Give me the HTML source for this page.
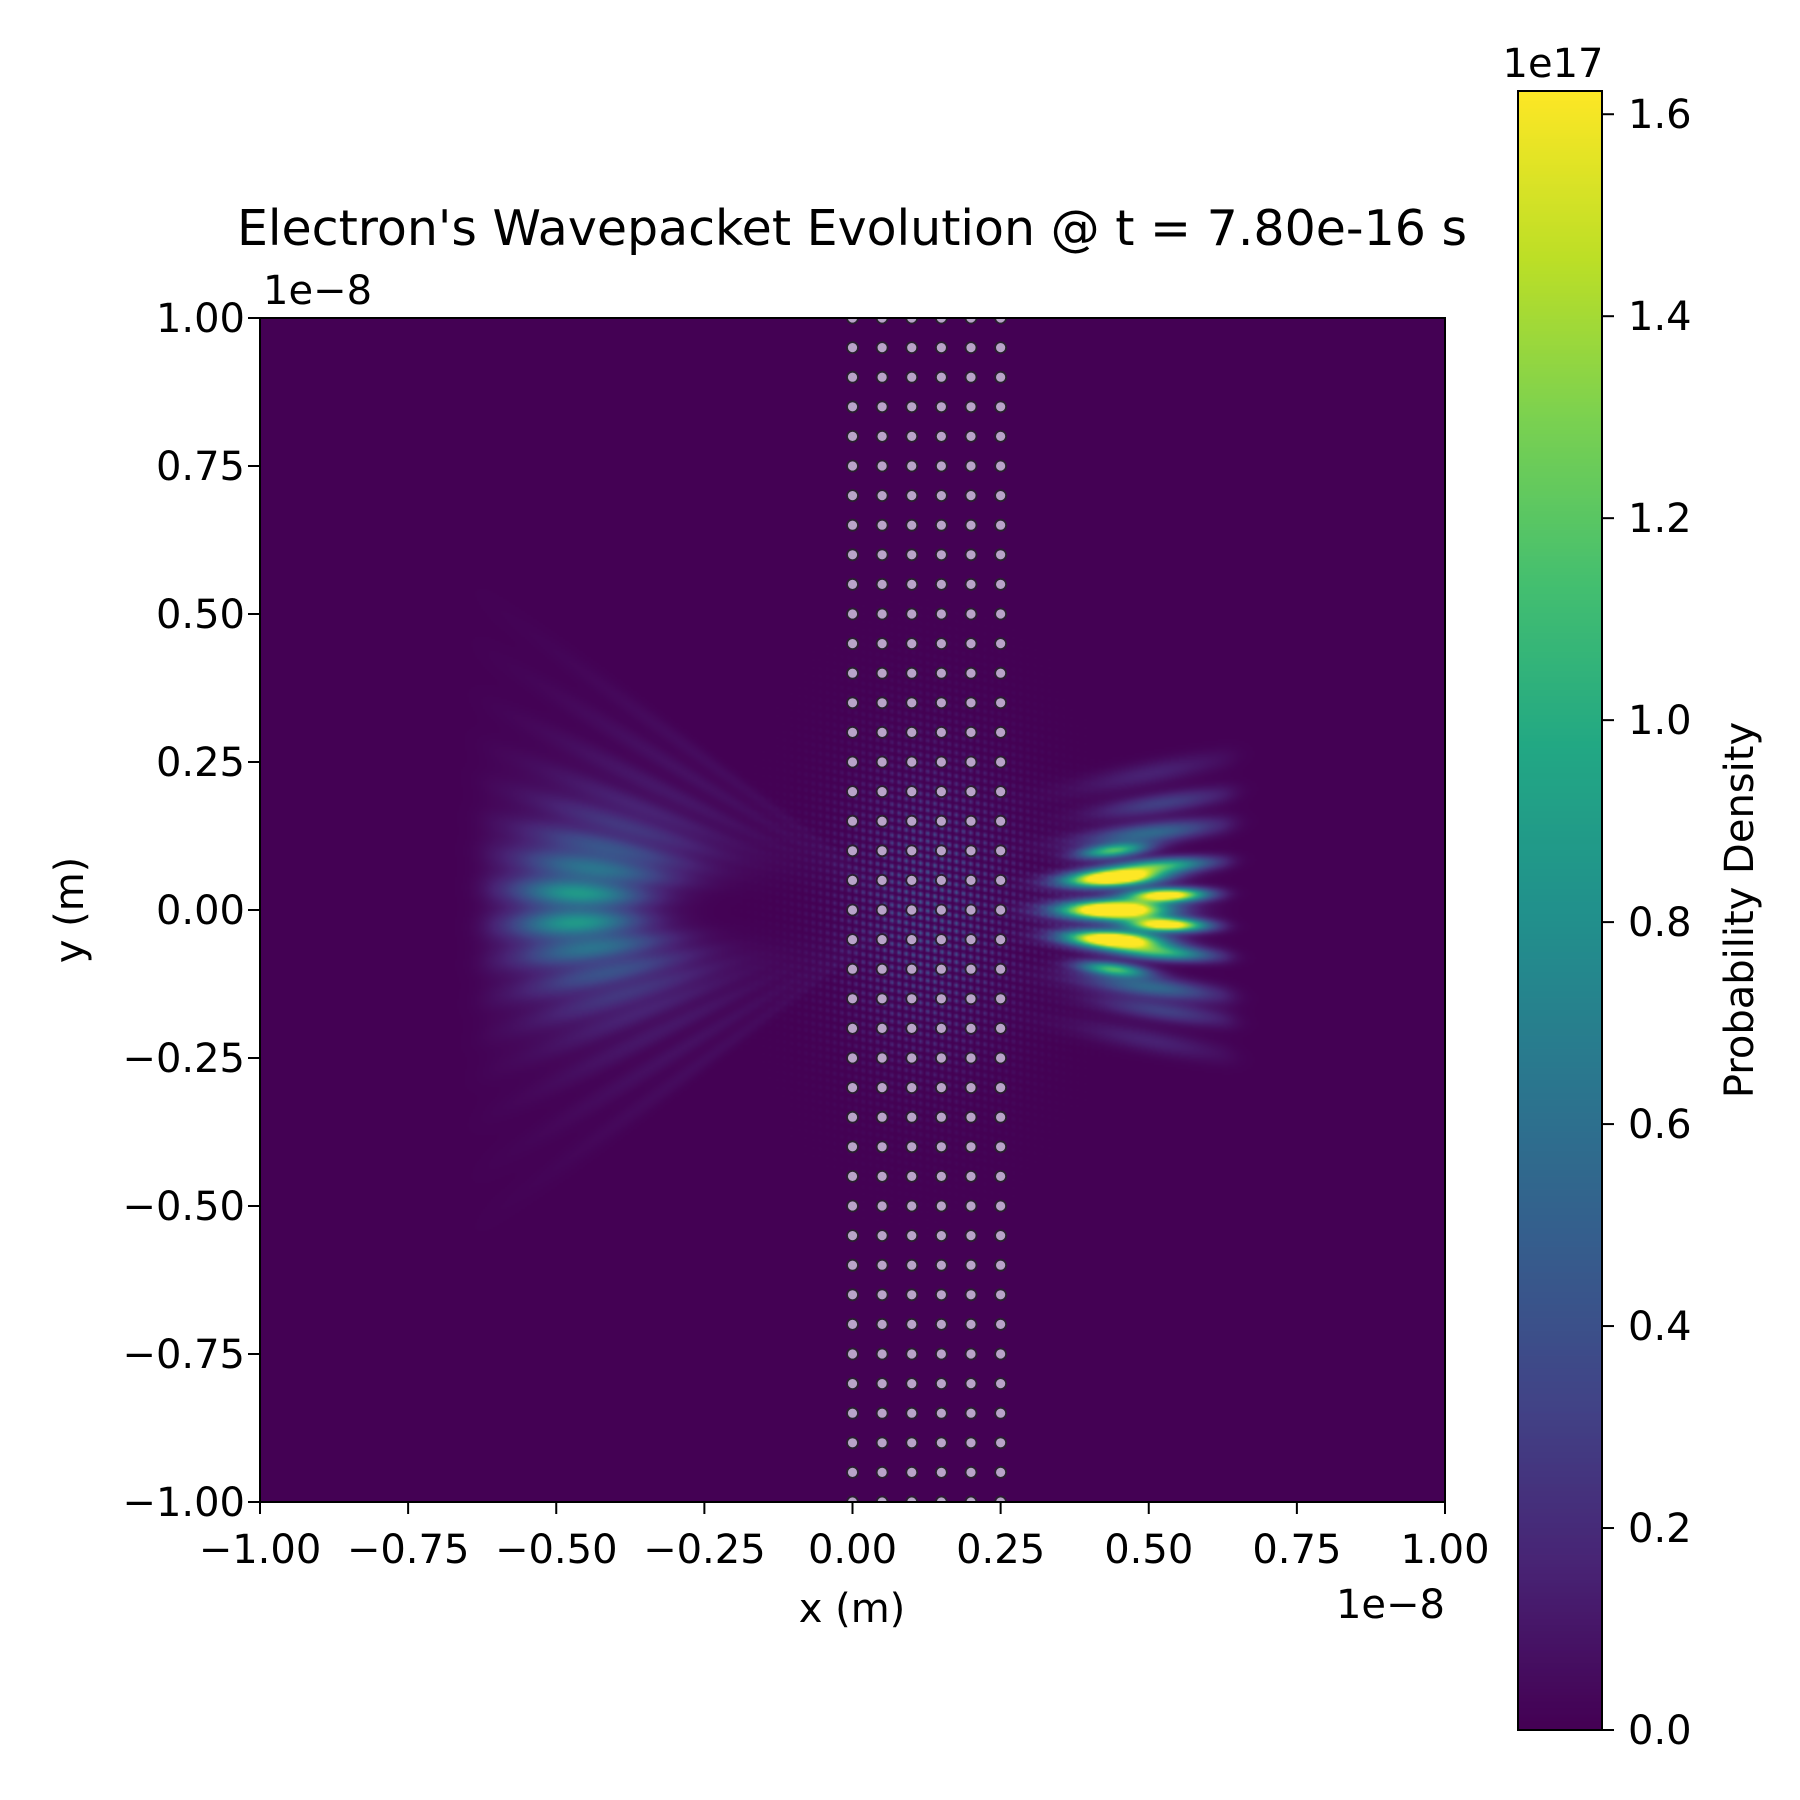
<!DOCTYPE html>
<html><head><meta charset="utf-8"><style>
html,body{margin:0;padding:0;background:#fff;}
#wrap{position:relative;width:1800px;height:1800px;font-family:"Liberation Sans","DejaVu Sans",sans-serif;}
canvas{position:absolute;}
svg{position:absolute;left:0;top:0;}
text{font-family:"DejaVu Sans","Liberation Sans",sans-serif;fill:#000;}
</style></head><body>
<div id="wrap">
<canvas id="heat" width="593" height="592" style="left:260px;top:318px;width:1185px;height:1184px;"></canvas>
<canvas id="cbar" width="1" height="256" style="left:1518px;top:91px;width:84px;height:1639px;"></canvas>
<svg id="ov" width="1800" height="1800"></svg>
</div>
<script>
// ---- data ----
const xTicks = [-1.0,-0.75,-0.5,-0.25,0.0,0.25,0.5,0.75,1.0];
const xTickLabels = ["\u22121.00","\u22120.75","\u22120.50","\u22120.25","0.00","0.25","0.50","0.75","1.00"];
const yTicks = [-1.0,-0.75,-0.5,-0.25,0.0,0.25,0.5,0.75,1.0];
const yTickLabels = ["\u22121.00","\u22120.75","\u22120.50","\u22120.25","0.00","0.25","0.50","0.75","1.00"];
const cbTicks = [0.0,0.2,0.4,0.6,0.8,1.0,1.2,1.4,1.6];
const cbTickLabels = ["0.0","0.2","0.4","0.6","0.8","1.0","1.2","1.4","1.6"];
const cbMax = 1.623;
const latticeX = [0.0,0.05,0.10,0.15,0.20,0.25];
const latticeYStart = -1.0, latticeYStep = 0.05, latticeYCount = 40;
// right (transmitted) packet lobes: centre x, centre y, amplitude, sigma x, sigma y
const rightX = [0.44,0.44,0.44,0.53,0.53,0.44,0.44,0.52,0.52,0.50,0.50,0.52,0.52,0.50,0.50];
const rightY = [0.054,0.0,-0.05,0.025,-0.025,0.10,-0.10,0.075,-0.072,0.13,-0.13,0.18,-0.17,0.23,-0.22];
const rightA = [2.2,2.4,2.2,1.9,1.9,1.1,1.1,1.0,1.0,0.55,0.55,0.3,0.3,0.15,0.15];
const rightSX = [0.055,0.06,0.055,0.045,0.045,0.04,0.04,0.06,0.06,0.08,0.08,0.08,0.08,0.09,0.09];
const rightSY = [0.010,0.011,0.010,0.008,0.008,0.008,0.008,0.009,0.009,0.012,0.012,0.012,0.012,0.014,0.014];
// left (reflected) packet stripes at x=-0.48
const leftY = [0.029,-0.022,0.076,-0.07,0.12,-0.12,0.17,-0.17,0.22,-0.22,0.28,-0.28,0.35,-0.35,0.42,-0.42];
const leftA = [0.85,0.85,0.6,0.6,0.4,0.4,0.25,0.25,0.15,0.15,0.1,0.1,0.07,0.07,0.05,0.05];

// ---- axes ----
const PX0=260, PX1=1445, PY0=318, PY1=1502;
const sx = v => PX0 + (v+1)/2*(PX1-PX0);
const sy = v => PY1 - (v+1)/2*(PY1-PY0);
const CB0=1730, CB1=91;
const cy = v => CB0 - v/cbMax*(CB0-CB1);

const VIR=[[68,1,84],[72,36,117],[65,68,135],[53,95,141],[42,120,142],[33,145,140],[34,168,132],[68,191,112],[122,209,81],[189,223,38],[253,231,37]];
function vir(t){t=Math.max(0,Math.min(1,t));const p=t*(VIR.length-1);const i=Math.min(VIR.length-2,Math.floor(p));const f=p-i;
 return VIR[i].map((c,k)=>Math.round(c+(VIR[i+1][k]-c)*f));}

function density(x,y){
 let v=0;
 for(let k=0;k<rightX.length;k++){
  const slope=rightY[k]/(rightX[k]-0.15)*0.3;
  const yc=rightY[k]+slope*(x-rightX[k]);
  const dx=(x-rightX[k])/rightSX[k], dy=(y-yc)/rightSY[k];
  let e=Math.exp(-0.5*(dx*dx+dy*dy));
  if(x>0.62) e*=Math.exp(-Math.pow((x-0.62)/0.04,2));
  v+=rightA[k]*e;
 }
 const O=0.1, ref=O-(-0.48);
 if(x<O){
  const s=(O-x)/ref;
  for(let k=0;k<leftY.length;k++){
   const yc=leftY[k]*s;
   const cx=-0.48+Math.abs(leftY[k])*0.55;
   const dx=(x-cx)/(0.07+Math.abs(leftY[k])*0.25), dy=(y-yc)/(0.013*s+0.004);
   let e=Math.exp(-0.5*(dx*dx+dy*dy));
   if(x<-0.6) e*=Math.exp(-Math.pow((x+0.6)/0.05,2));
   v+=leftA[k]*e;
  }
 }
 if(x>-0.2&&x<0.6){
  const env=Math.exp(-Math.pow(y/0.25,2))*Math.exp(-Math.pow((x-0.13)/0.15,2));
  const sp=Math.pow(Math.sin(x*260)*Math.sin(y*240+x*40),2);
  v+=0.5*env*sp;
 }
 return v;
}
(function(){
 const c=document.getElementById('heat'),ctx=c.getContext('2d');
 const W=c.width,H=c.height,img=ctx.createImageData(W,H);
 for(let j=0;j<H;j++){const y=1-2*(j+0.5)/H;
  for(let i=0;i<W;i++){const x=-1+2*(i+0.5)/W;
   const col=vir(density(x,y)/cbMax);const o=(j*W+i)*4;
   img.data[o]=col[0];img.data[o+1]=col[1];img.data[o+2]=col[2];img.data[o+3]=255;}}
 ctx.putImageData(img,0,0);
 const cb=document.getElementById('cbar'),cc=cb.getContext('2d'),ci=cc.createImageData(1,256);
 for(let j=0;j<256;j++){const col=vir(1-j/255);ci.data[j*4]=col[0];ci.data[j*4+1]=col[1];ci.data[j*4+2]=col[2];ci.data[j*4+3]=255;}
 cc.putImageData(ci,0,0);
})();

const NS="http://www.w3.org/2000/svg";
const svg=document.getElementById('ov');
function mk(tag,attrs,parent){const e=document.createElementNS(NS,tag);for(const k in attrs)e.setAttribute(k,attrs[k]);(parent||svg).appendChild(e);return e;}
function txt(s,attrs){const e=mk('text',attrs);e.textContent=s;return e;}

const clip=mk('clipPath',{id:'pc'});mk('rect',{x:PX0,y:PY0,width:PX1-PX0,height:PY1-PY0},clip);
const dots=mk('g',{'clip-path':'url(#pc)'});


for(const lx of latticeX){for(let r=0;r<latticeYCount+1;r++){
 const ly=latticeYStart+r*latticeYStep;
 const d=mk('circle',{cx:sx(lx),cy:sy(ly),r:5.5,fill:'#b9a3c9',stroke:'#2a2030','stroke-width':1.8},dots);
 
 
}}

const fr=mk('rect',{x:PX0,y:PY0,width:PX1-PX0,height:PY1-PY0,fill:'none',stroke:'#000','stroke-width':2});



xTicks.forEach((v,i)=>{
 mk('line',{x1:sx(v),x2:sx(v),y1:PY1,y2:PY1+12,stroke:'#000','stroke-width':2});
 const t=txt(xTickLabels[i],{x:sx(v),y:1563,'font-size':40,'text-anchor':'middle'});
 
 
});
yTicks.forEach((v,i)=>{
 mk('line',{x1:PX0-12,x2:PX0,y1:sy(v),y2:sy(v),stroke:'#000','stroke-width':2});
 const t=txt(yTickLabels[i],{x:245,y:sy(v)+14,'font-size':40,'text-anchor':'end'});
 
 
});
const cbf=mk('rect',{x:1518,y:91,width:84,height:1639,fill:'none',stroke:'#000','stroke-width':2});


cbTicks.forEach((v,i)=>{
 mk('line',{x1:1602,x2:1614,y1:cy(v),y2:cy(v),stroke:'#000','stroke-width':2});
 const t=txt(cbTickLabels[i],{x:1628,y:cy(v)+14,'font-size':40});
 
 
});
let t;
t=txt("Electron's Wavepacket Evolution @ t = 7.80e-16 s",{x:852,y:245,'font-size':49,'text-anchor':'middle'});

t=txt("1e\u22128",{x:263,y:304,'font-size':40});

t=txt("1e\u22128",{x:1445,y:1618,'font-size':40,'text-anchor':'end'});

t=txt("x (m)",{x:852,y:1622,'font-size':40,'text-anchor':'middle'});

t=txt("y (m)",{x:0,y:0,'font-size':40,'text-anchor':'middle',transform:'translate(83,910) rotate(-90)'});

t=txt("1e17",{x:1553,y:77,'font-size':40,'text-anchor':'middle'});

t=txt("Probability Density",{x:0,y:0,'font-size':40,'text-anchor':'middle',transform:'translate(1753,910) rotate(-90)'});

</script>
</body></html>
